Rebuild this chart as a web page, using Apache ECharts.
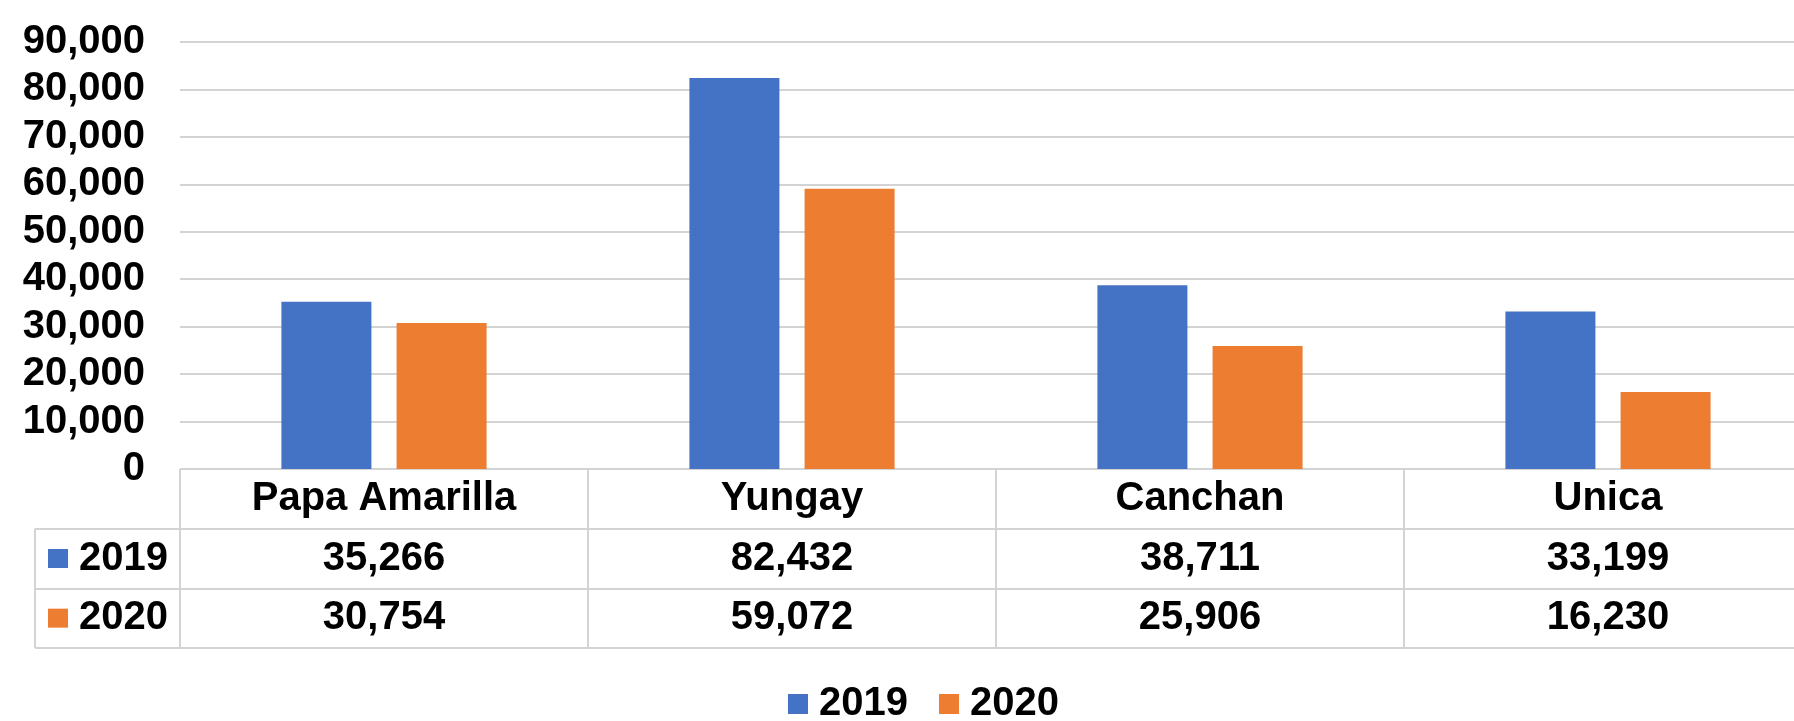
<!DOCTYPE html>
<html>
<head>
<meta charset="utf-8">
<script src="https://cdn.jsdelivr.net/npm/echarts@6/dist/echarts.min.js"></script>
<style>
  html, body { margin: 0; padding: 0; background: #fff; }
  #chart { width: 1794px; height: 721px; }
</style>
</head>
<body>
<div id="chart"></div>
<script>
// data
const categories = ['Papa Amarilla', 'Yungay', 'Canchan', 'Unica'];
const years = ['2019', '2020'];
const values2019 = [35266, 82432, 38711, 33199];
const values2020 = [30754, 59072, 25906, 16230];
const yTicks = { min: 0, max: 90000, interval: 10000 };

const colors = ['#4472C4', '#ED7D31'];
const lineColor = '#d3d3d3';
const font = 'Liberation Sans, Arial, sans-serif';
const fmt = v => v.toLocaleString('en-US');

// layout of plot + table
const plotLeft = 180, plotTop = 42, plotBottom = 469, tableBottom = 648;
const plotWidth = 1632; // last column is cut off by the right edge
const rowH = (tableBottom - plotBottom) / 3;

// table cells: [categoryIndex, rowIndex]; row 0 = header
const cells = [];
categories.forEach((c, i) => { for (let r = 0; r < 3; r++) cells.push([i, r]); });
const rowValues = [values2019, values2020];
const cellText = (i, r) => r === 0 ? categories[i] : fmt(rowValues[r - 1][i]);

const chart = echarts.init(document.getElementById('chart'));

const labelText = { color: '#000', fontFamily: font, fontWeight: 'bold', fontSize: 40 };

const option = {
    animation: false,
    textStyle: { fontFamily: font },
    color: colors,
    grid: [
        { left: plotLeft, top: plotTop, width: plotWidth, height: plotBottom - plotTop, outerBoundsMode: 'none' },
        { left: plotLeft, top: plotBottom, width: plotWidth, height: tableBottom - plotBottom, outerBoundsMode: 'none' },
        { left: 35, top: plotBottom + rowH, width: plotLeft - 35, height: rowH * 2, outerBoundsMode: 'none' }
    ],
    xAxis: [
        {
            gridIndex: 0, type: 'category', data: categories,
            axisLine: { show: false }, axisTick: { show: false }, axisLabel: { show: false }
        },
        {
            gridIndex: 1, type: 'category', data: categories,
            axisLine: { show: false }, axisTick: { show: false }, axisLabel: { show: false },
            splitLine: { show: true, interval: 0, lineStyle: { color: lineColor, width: 2 } }
        },
        {
            gridIndex: 2, type: 'category', data: [''],
            axisLine: { show: false }, axisTick: { show: false }, axisLabel: { show: false },
            splitLine: { show: true, lineStyle: { color: lineColor, width: 2 } }
        }
    ],
    yAxis: [
        {
            gridIndex: 0, type: 'value',
            min: yTicks.min, max: yTicks.max, interval: yTicks.interval,
            axisLine: { show: false }, axisTick: { show: false },
            axisLabel: Object.assign({ margin: 35, formatter: v => fmt(v) }, labelText),
            splitLine: { lineStyle: { color: lineColor, width: 2 } }
        },
        {
            gridIndex: 1, type: 'category', inverse: true, data: ['', ...years],
            axisLine: { show: false }, axisTick: { show: false }, axisLabel: { show: false },
            splitLine: { show: true, interval: 0, lineStyle: { color: lineColor, width: 2 } }
        },
        {
            gridIndex: 2, type: 'category', inverse: true, data: years,
            axisLine: { show: false }, axisTick: { show: false },
            splitLine: { show: true, interval: 0, lineStyle: { color: lineColor, width: 2 } },
            axisLabel: {
                inside: true, margin: 13, align: 'left',
                formatter: (v, i) => `{s${i}|}{t|${v}}`,
                rich: {
                    s0: { width: 20, height: 19, backgroundColor: colors[0] },
                    s1: { width: 20, height: 19, backgroundColor: colors[1] },
                    t: Object.assign({ padding: [0, 0, 0, 11] }, labelText)
                }
            }
        }
    ],
    legend: {
        left: 783, top: 679,
        icon: 'rect', itemWidth: 20, itemHeight: 20, itemGap: 31,
        textStyle: Object.assign({ padding: [0, 0, 0, 6] }, labelText),
        data: years
    },
    series: [
        {
            name: years[0], type: 'bar', xAxisIndex: 0, yAxisIndex: 0,
            barWidth: 90, barGap: '28%', data: values2019
        },
        {
            name: years[1], type: 'bar', xAxisIndex: 0, yAxisIndex: 0,
            barWidth: 90, barGap: '28%', data: values2020
        },
        {
            // data table cells
            type: 'custom', xAxisIndex: 1, yAxisIndex: 1,
            silent: true, data: cells,
            renderItem: (params, api) => {
                const i = api.value(0), r = api.value(1);
                const pt = api.coord([i, r]);
                return {
                    type: 'text', x: pt[0], y: pt[1],
                    style: {
                        text: cellText(i, r),
                        fill: '#000',
                        font: `bold 40px ${font}`,
                        align: 'center', verticalAlign: 'middle'
                    }
                };
            }
        }
    ]
};

chart.setOption(option);
</script>
</body>
</html>
